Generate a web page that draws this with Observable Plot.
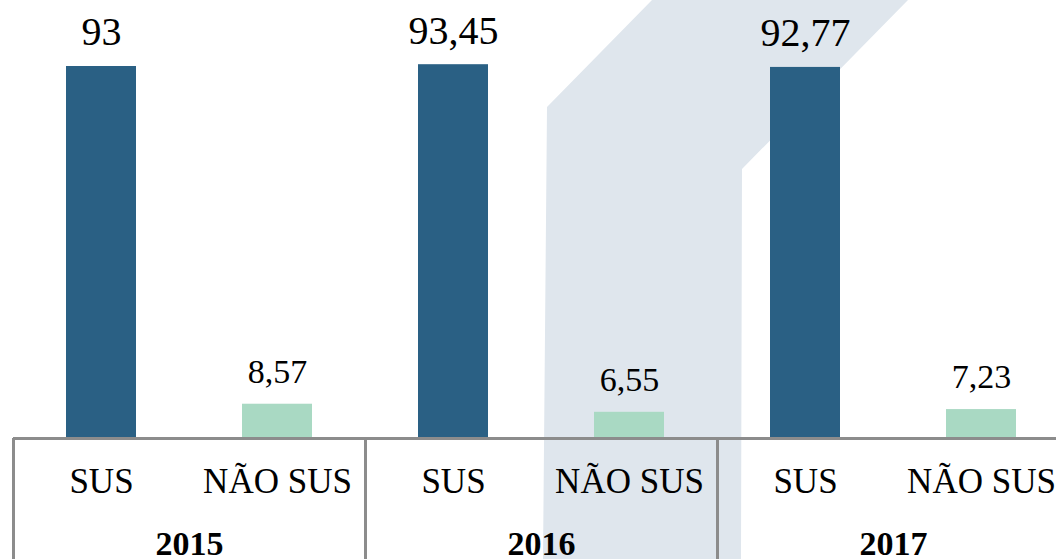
<!DOCTYPE html>
<html>
<head>
<meta charset="utf-8">
<script src="https://cdn.jsdelivr.net/npm/d3@7"></script>
<script src="https://cdn.jsdelivr.net/npm/@observablehq/plot@0.6"></script>
<style>
  html, body { margin: 0; padding: 0; background: #fff; overflow: hidden; }
  #wrap { position: relative; width: 1056px; height: 559px; overflow: hidden; }
  #deco { position: absolute; left: 0; top: 0; width: 1056px; height: 559px; background: #dfe6ed;
    clip-path: polygon(652px 0px, 908px 0px, 742px 169px, 741px 559px, 543px 559px, 547px 107px); }
  #chart { position: absolute; left: 0; top: 0; width: 1069px; }
  #chart svg { background: transparent !important; max-width: none !important; }
  #chart svg, #chart svg text { font-family: 'Liberation Serif', 'Times New Roman', serif !important; }
</style>
</head>
<body>
<div id="wrap"><div id="deco"></div><div id="chart"></div></div>
<script>
const years = ["2015", "2016", "2017"];
const types = ["SUS", "NÃO SUS"];
const susValues = [93, 93.45, 92.77];
const naoSusValues = [8.57, 6.55, 7.23];

const data = [];
years.forEach((yr, i) => {
  data.push({year: yr, type: types[0], key: yr + "|" + types[0], value: susValues[i]});
  data.push({year: yr, type: types[1], key: yr + "|" + types[1], value: naoSusValues[i]});
});
const keys = data.map(d => d.key);
const fmt = v => v.toLocaleString("pt-BR");
const serif = "Liberation Serif";

const chart = Plot.plot({
  width: 1069,
  height: 559,
  marginLeft: 13,
  marginRight: 0,
  marginTop: 38,
  marginBottom: 121,
  style: {color: "#000", background: "transparent", overflow: "visible", fontFamily: serif},
  x: {domain: keys, paddingInner: 0.6, paddingOuter: 0.3, axis: null, label: null},
  y: {domain: [0, 100], axis: null},
  color: {domain: types, range: ["#2a6084", "#a9d9c3"]},
  marks: [
    Plot.barY(data, {x: "key", y: "value", fill: "type"}),
    Plot.text(data.filter(d => d.type === types[0]), {x: "key", y: "value", text: d => fmt(d.value), dy: -34, fontSize: 40, fontFamily: serif, fill: "#000", lineAnchor: "middle"}),
    Plot.text(data.filter(d => d.type === types[1]), {x: "key", y: "value", text: d => fmt(d.value), dy: -32, fontSize: 34, fontFamily: serif, fill: "#000", lineAnchor: "middle"}),
    Plot.ruleY([0], {stroke: "#8c8c8c", strokeWidth: 3}),
    Plot.axisX({tickSize: 0, tickPadding: 30, fontSize: 35, fontFamily: serif, label: null, tickFormat: d => d.split("|")[1], fill: "#000"}),
    Plot.axisX(years.map(y => y + "|SUS"), {tickSize: 121, text: null, label: null, dx: -88, stroke: "#8c8c8c", strokeWidth: 3, strokeOpacity: 1}),
    Plot.text(years.map(y => ({key: y + "|SUS", year: y})), {x: "key", text: "year", frameAnchor: "bottom", dx: 88, dy: 92, lineAnchor: "top", fontSize: 34, fontFamily: serif, fontWeight: "bold", fill: "#000"})
  ]
});
document.getElementById("chart").appendChild(chart);
</script>
</body>
</html>
